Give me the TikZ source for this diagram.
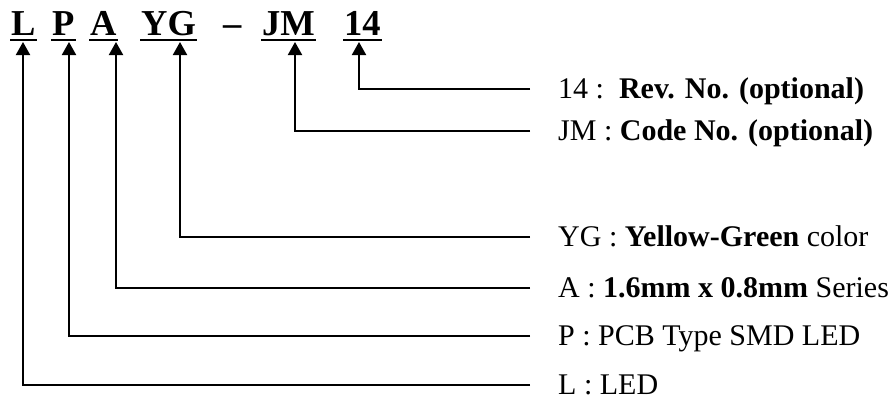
\documentclass[tikz,border=0pt]{standalone}
\usepackage{fontspec}
\setmainfont{Liberation Serif}
\usetikzlibrary{arrows.meta,positioning}
\tikzset{
    %Define standard arrow tip
    >={Triangle[width=14pt,length=13pt]},
    %Define style for the code letters
    code/.style={
           anchor=south west,
           inner xsep=1pt,
           inner ysep=6pt,
           text depth=0pt,
           font=\fontsize{36.5}{36}\selectfont\bfseries},
    %Define style for the explanations
    lbl/.style={
           anchor=west,
           inner sep=0pt,
           text height=19.8pt,
           text depth=0pt,
           font=\fontsize{30}{32}\selectfont},
    % Define arrow style
    pil/.style={
           ->,
           line width=2pt},
    uline/.style={line width=2pt}
}
\begin{document}
\begin{tikzpicture}[x=1pt,y=-1pt]
\useasboundingbox (0,0) rectangle (892,399);
\node[code](cL) at (10,42){L};
\node[code](cP) at (51,42){P};
\node[code](cA) at (89,42){A};
\node[code](cYG) at (140,42){YG};
\node[code](dash) at (222,42){–};
\node[code](cJM) at (261,42){JM};
\node[code](c14) at (343,42){14};

\foreach \c in {cL,cP,cA,cYG,cJM,c14}
	\draw[uline] ([yshift=2pt]\c.south west) -- ([yshift=2pt]\c.south east);

\node[lbl](l14) at (558,89){14 :\ \ \textbf{Rev. No. (optional)}};
\node[lbl](lJM) at (558,131){JM : \textbf{Code No. (optional)}};
\node[lbl](lYG) at (558,237){YG : \textbf{Yellow-Green} color};
\node[lbl](lA) at (558,288){A : \textbf{1.6mm x 0.8mm} Series};
\node[lbl](lP) at (558,336){P : PCB Type SMD LED};
\node[lbl](lL) at (558,385){L : LED};

\draw[pil] ([xshift=-28pt]l14.west) -| ([xshift=16pt]c14.south west);
\draw[pil] ([xshift=-28pt]lJM.west) -| ([xshift=34pt]cJM.south west);
\draw[pil] ([xshift=-28pt]lYG.west) -| ([xshift=40pt]cYG.south west);
\draw[pil] ([xshift=-28pt]lA.west) -| ([xshift=27pt]cA.south west);
\draw[pil] ([xshift=-28pt]lP.west) -| ([xshift=18pt]cP.south west);
\draw[pil] ([xshift=-28pt]lL.west) -| ([xshift=13pt]cL.south west);
\end{tikzpicture}
\end{document}
